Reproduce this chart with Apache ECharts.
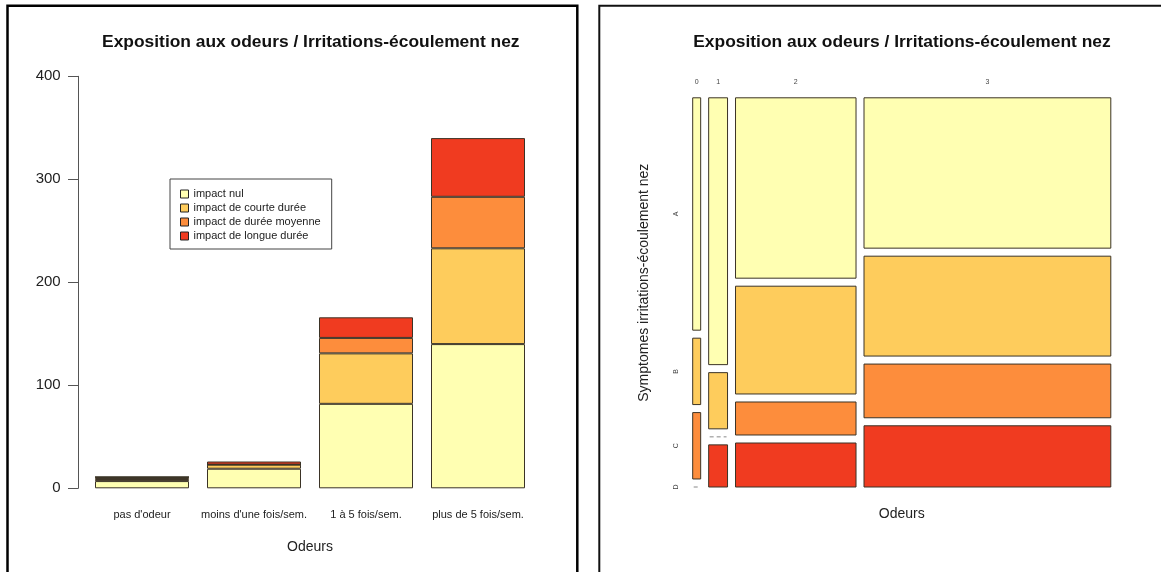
<!DOCTYPE html>
<html>
<head>
<meta charset="utf-8">
<script src="https://cdn.jsdelivr.net/npm/echarts@6/dist/echarts.min.js"></script>
<style>
  html, body { margin: 0; padding: 0; background: #ffffff; }
  #chart { width: 1161px; height: 572px; }
</style>
</head>
<body>
<div id="chart"></div>
<script>
// Frequency of odour exposure (columns) and duration of nasal irritation impact (stack levels)
const categories = ["pas d'odeur", "moins d'une fois/sem.", "1 à 5 fois/sem.", "plus de 5 fois/sem."];
const impactLevels = ['impact nul', 'impact de courte durée', 'impact de durée moyenne', 'impact de longue durée'];
const impactNul = [7, 19, 82, 140];
const impactCourte = [2, 4, 49, 93];
const impactMoyenne = [2, 0, 15, 50];
const impactLongue = [0, 3, 20, 57];
const mosaicColLabels = ['0', '1', '2', '3'];
const mosaicRowLabels = ['A', 'B', 'C', 'D'];
const countAxis = { min: 0, max: 400, step: 100 };

const chartTitle = 'Exposition aux odeurs / Irritations-écoulement nez';
const xTitle = 'Odeurs';
const yTitleMosaic = 'Symptomes irritations-écoulement nez';

const palette = ['#FFFFB2', '#FECC5C', '#FD8D3C', '#F03B20'];
const FONT = '"Liberation Sans", Arial, sans-serif';

const levels = [impactNul, impactCourte, impactMoyenne, impactLongue];
const colTotals = categories.map((_, i) => levels.reduce((s, l) => s + l[i], 0));
const grandTotal = colTotals.reduce((a, b) => a + b, 0);

// Mosaic layout in axis units (0..1): widths follow column totals, heights follow
// the within-column shares, with a fixed gap between tiles.
const GAP_X = 0.0191;
const GAP_Y = 0.0206;
function colSpan(i) {
  const usable = 1 - GAP_X * (categories.length - 1);
  let x0 = i * GAP_X;
  for (let j = 0; j < i; j++) x0 += colTotals[j] / grandTotal * usable;
  return [x0, x0 + colTotals[i] / grandTotal * usable];
}
function rowSpan(i, k) {
  const usable = 1 - GAP_Y * (levels.length - 1);
  let y0 = k * GAP_Y;
  for (let m = 0; m < k; m++) y0 += levels[m][i] / colTotals[i] * usable;
  return [y0, y0 + levels[k][i] / colTotals[i] * usable];
}

const mosaicCells = [];
categories.forEach((_, i) => levels.forEach((l, k) => mosaicCells.push([i, k, l[i]])));

const chart = echarts.init(document.getElementById('chart'), null, { renderer: 'canvas' });

const barSeries = impactLevels.map((name, k) => ({
  name,
  type: 'bar',
  stack: 'odeurs',
  xAxisIndex: 0,
  yAxisIndex: 0,
  data: levels[k],
  barWidth: 94,
  itemStyle: { color: palette[k], borderColor: '#3b3326', borderWidth: 1 },
  silent: true
}));

const option = {
  animation: false,
  backgroundColor: '#ffffff',
  textStyle: { fontFamily: FONT },
  legend: {
    data: impactLevels,
    orient: 'vertical',
    left: 170,
    top: 179,
    padding: [8, 11, 6, 10],
    borderColor: '#444',
    borderWidth: 1,
    itemWidth: 8,
    itemHeight: 8,
    itemGap: 0,
    itemTextGap: 11,
    icon: 'rect',
    selectedMode: false,
    itemStyle: { borderColor: '#222', borderWidth: 1 },
    textStyle: { fontSize: 11, color: '#222', lineHeight: 14, fontFamily: FONT }
  },
  grid: [
    { left: 86, right: 627, top: 76.3, bottom: 83.7, outerBoundsMode: 'none', containLabel: false },
    { left: 692.7, right: 50.2, top: 97.8, bottom: 85, outerBoundsMode: 'none', containLabel: false }
  ],
  xAxis: [
    {
      type: 'category',
      gridIndex: 0,
      data: categories,
      axisLine: { show: false },
      axisTick: { show: false },
      splitLine: { show: false },
      axisLabel: { interval: 0, fontSize: 11, color: '#222', margin: 21.5, fontFamily: FONT },
      name: xTitle,
      nameLocation: 'middle',
      nameGap: 52,
      nameTextStyle: { fontSize: 14, color: '#222', fontFamily: FONT }
    },
    {
      type: 'value',
      gridIndex: 1,
      min: 0,
      max: 1,
      axisLine: { show: false },
      axisTick: { show: false },
      axisLabel: { show: false },
      splitLine: { show: false },
      name: xTitle,
      nameLocation: 'middle',
      nameGap: 20,
      nameTextStyle: { fontSize: 14, color: '#222', fontFamily: FONT }
    }
  ],
  yAxis: [
    {
      type: 'value',
      gridIndex: 0,
      min: countAxis.min,
      max: countAxis.max,
      interval: countAxis.step,
      offset: 8,
      axisLine: { show: true, lineStyle: { color: '#555', width: 1 } },
      axisTick: { show: true, length: 10, lineStyle: { color: '#555', width: 1 } },
      axisLabel: { fontSize: 15, color: '#222', margin: 17.3, fontFamily: FONT },
      splitLine: { show: false }
    },
    {
      type: 'value',
      gridIndex: 1,
      min: 0,
      max: 1,
      inverse: true,
      axisLine: { show: false },
      axisTick: { show: false },
      axisLabel: { show: false },
      splitLine: { show: false }
    }
  ],
  series: barSeries.concat([
    {
      type: 'custom',
      name: 'mosaic',
      xAxisIndex: 1,
      yAxisIndex: 1,
      silent: true,
      data: mosaicCells,
      renderItem(params, api) {
        const i = api.value(0), k = api.value(1), n = api.value(2);
        const [x0, x1] = colSpan(i);
        const [y0, y1] = rowSpan(i, k);
        const p0 = api.coord([x0, y0]);
        const p1 = api.coord([x1, y1]);
        if (n === 0) {
          return {
            type: 'line',
            shape: { x1: p0[0] + 1, y1: p0[1], x2: p1[0] - 1, y2: p0[1] },
            style: { stroke: '#888', lineWidth: 1, lineDash: [4, 3] }
          };
        }
        return {
          type: 'rect',
          shape: { x: p0[0], y: Math.min(p0[1], p1[1]), width: p1[0] - p0[0], height: Math.abs(p1[1] - p0[1]) },
          style: { fill: palette[k], stroke: '#3b3326', lineWidth: 1 }
        };
      }
    },
    {
      type: 'custom',
      name: 'mosaic-columns',
      xAxisIndex: 1,
      yAxisIndex: 1,
      silent: true,
      data: mosaicColLabels.map((_, i) => [i]),
      renderItem(params, api) {
        const i = api.value(0);
        const [x0, x1] = colSpan(i);
        const p = api.coord([(x0 + x1) / 2, 0]);
        return {
          type: 'text',
          x: p[0],
          y: p[1] - 15.7,
          style: { text: mosaicColLabels[i], align: 'center', verticalAlign: 'middle', font: '7px ' + FONT, fill: '#444' }
        };
      }
    },
    {
      type: 'custom',
      name: 'mosaic-rows',
      xAxisIndex: 1,
      yAxisIndex: 1,
      silent: true,
      data: mosaicRowLabels.map((_, k) => [k]),
      renderItem(params, api) {
        const k = api.value(0);
        const [y0, y1] = rowSpan(0, k);
        const p = api.coord([0, (y0 + y1) / 2]);
        return {
          type: 'text',
          x: p[0] - 16.4,
          y: p[1],
          rotation: Math.PI / 2,
          style: { text: mosaicRowLabels[k], align: 'center', verticalAlign: 'middle', font: '7px ' + FONT, fill: '#444' }
        };
      }
    }
  ]),
  graphic: [
    {
      type: 'rect', silent: true,
      shape: { x: 7.5, y: 5.8, width: 569.8, height: 620 },
      style: { fill: 'none', stroke: '#000', lineWidth: 2.5 }
    },
    {
      type: 'rect', silent: true,
      shape: { x: 599.3, y: 5.8, width: 620, height: 620 },
      style: { fill: 'none', stroke: '#111', lineWidth: 2 }
    },
    {
      type: 'text', silent: true, x: 310.8, y: 42.7,
      style: { text: chartTitle, align: 'center', verticalAlign: 'middle', font: 'bold 17.4px ' + FONT, fill: '#111' }
    },
    {
      type: 'text', silent: true, x: 902, y: 42,
      style: { text: chartTitle, align: 'center', verticalAlign: 'middle', font: 'bold 17.4px ' + FONT, fill: '#111' }
    },
    {
      type: 'text', silent: true, x: 644.6, y: 282.7, rotation: Math.PI / 2,
      style: { text: yTitleMosaic, align: 'center', verticalAlign: 'middle', font: '14px ' + FONT, fill: '#222' }
    }
  ]
};

chart.setOption(option);
</script>
</body>
</html>
